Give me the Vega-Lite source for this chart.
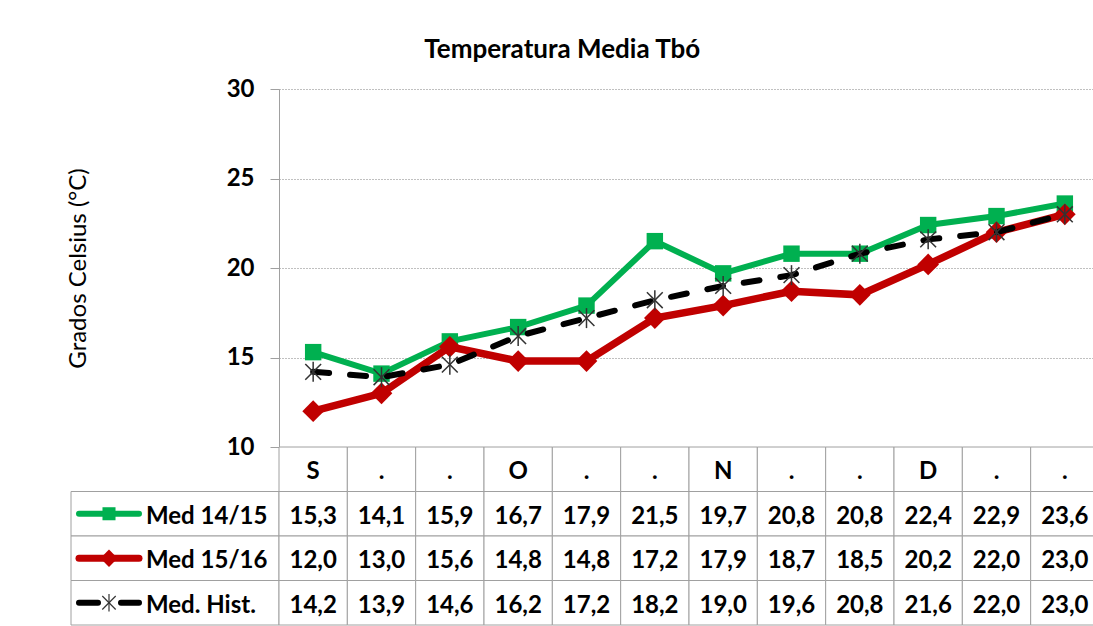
{
  "$schema": "https://vega.github.io/schema/vega-lite/v6.json",
  "background": "white",
  "padding": {"left": 65, "top": 37, "right": 0, "bottom": 0},
  "title": {"text": "Temperatura Media Tbó", "font": "Lato", "fontSize": 26, "fontWeight": "bold", "color": "black", "anchor": "middle", "dx": -20, "offset": 14},
  "datasets": {
    "temps": [
      {"serie": "Med 14/15", "periodo": "S1", "valor": 15.3},
      {"serie": "Med 14/15", "periodo": "S2", "valor": 14.1},
      {"serie": "Med 14/15", "periodo": "S3", "valor": 15.9},
      {"serie": "Med 14/15", "periodo": "O1", "valor": 16.7},
      {"serie": "Med 14/15", "periodo": "O2", "valor": 17.9},
      {"serie": "Med 14/15", "periodo": "O3", "valor": 21.5},
      {"serie": "Med 14/15", "periodo": "N1", "valor": 19.7},
      {"serie": "Med 14/15", "periodo": "N2", "valor": 20.8},
      {"serie": "Med 14/15", "periodo": "N3", "valor": 20.8},
      {"serie": "Med 14/15", "periodo": "D1", "valor": 22.4},
      {"serie": "Med 14/15", "periodo": "D2", "valor": 22.9},
      {"serie": "Med 14/15", "periodo": "D3", "valor": 23.6},
      {"serie": "Med 15/16", "periodo": "S1", "valor": 12.0},
      {"serie": "Med 15/16", "periodo": "S2", "valor": 13.0},
      {"serie": "Med 15/16", "periodo": "S3", "valor": 15.6},
      {"serie": "Med 15/16", "periodo": "O1", "valor": 14.8},
      {"serie": "Med 15/16", "periodo": "O2", "valor": 14.8},
      {"serie": "Med 15/16", "periodo": "O3", "valor": 17.2},
      {"serie": "Med 15/16", "periodo": "N1", "valor": 17.9},
      {"serie": "Med 15/16", "periodo": "N2", "valor": 18.7},
      {"serie": "Med 15/16", "periodo": "N3", "valor": 18.5},
      {"serie": "Med 15/16", "periodo": "D1", "valor": 20.2},
      {"serie": "Med 15/16", "periodo": "D2", "valor": 22.0},
      {"serie": "Med 15/16", "periodo": "D3", "valor": 23.0},
      {"serie": "Med. Hist.", "periodo": "S1", "valor": 14.2},
      {"serie": "Med. Hist.", "periodo": "S2", "valor": 13.9},
      {"serie": "Med. Hist.", "periodo": "S3", "valor": 14.6},
      {"serie": "Med. Hist.", "periodo": "O1", "valor": 16.2},
      {"serie": "Med. Hist.", "periodo": "O2", "valor": 17.2},
      {"serie": "Med. Hist.", "periodo": "O3", "valor": 18.2},
      {"serie": "Med. Hist.", "periodo": "N1", "valor": 19.0},
      {"serie": "Med. Hist.", "periodo": "N2", "valor": 19.6},
      {"serie": "Med. Hist.", "periodo": "N3", "valor": 20.8},
      {"serie": "Med. Hist.", "periodo": "D1", "valor": 21.6},
      {"serie": "Med. Hist.", "periodo": "D2", "valor": 22.0},
      {"serie": "Med. Hist.", "periodo": "D3", "valor": 23.0}
    ],
    "cabecera": [
      {"serie": "cab", "periodo": "S1", "etiqueta": "S"},
      {"serie": "cab", "periodo": "S2", "etiqueta": "."},
      {"serie": "cab", "periodo": "S3", "etiqueta": "."},
      {"serie": "cab", "periodo": "O1", "etiqueta": "O"},
      {"serie": "cab", "periodo": "O2", "etiqueta": "."},
      {"serie": "cab", "periodo": "O3", "etiqueta": "."},
      {"serie": "cab", "periodo": "N1", "etiqueta": "N"},
      {"serie": "cab", "periodo": "N2", "etiqueta": "."},
      {"serie": "cab", "periodo": "N3", "etiqueta": "."},
      {"serie": "cab", "periodo": "D1", "etiqueta": "D"},
      {"serie": "cab", "periodo": "D2", "etiqueta": "."},
      {"serie": "cab", "periodo": "D3", "etiqueta": "."}
    ],
    "series": [
      {"serie": "Med 14/15"},
      {"serie": "Med 15/16"},
      {"serie": "Med. Hist."}
    ]
  },
  "spacing": 358,
  "bounds": "flush",
  "vconcat": [
    {
      "spacing": 0,
      "bounds": "flush",
      "hconcat": [
        {
          "width": 208,
          "height": 358,
          "data": {"name": "series"},
          "mark": {"type": "text"},
          "encoding": {"text": {"value": " "}}
        },
        {
          "width": 820,
          "height": 358,
          "data": {"name": "temps"},
          "encoding": {
            "x": {
              "field": "periodo", "type": "ordinal",
              "sort": ["S1", "S2", "S3", "O1", "O2", "O3", "N1", "N2", "N3", "D1", "D2", "D3"],
              "scale": {"type": "point", "padding": 0.5},
              "axis": {"title": null, "labels": false, "ticks": false, "grid": false, "domainColor": "#A0A0A0"}
            },
            "y": {
              "field": "valor", "type": "quantitative",
              "scale": {"domain": [10, 30], "zero": false, "nice": false},
              "axis": {
                "title": "Grados Celsius (°C)", "values": [10, 15, 20, 25, 30],
                "grid": true, "gridDash": [1, 2], "gridColor": "#808080",
                "domainColor": "#A0A0A0", "tickColor": "#A0A0A0", "tickSize": 9,
                "labelFont": "Lato", "labelFontSize": 24, "labelFontWeight": "bold", "labelColor": "black", "labelPadding": 16,
                "titleFont": "Lato", "titleFontSize": 24, "titleFontWeight": "normal", "titleColor": "black",
                "titlePadding": 136
              }
            }
          },
          "layer": [
            {
              "transform": [{"filter": "datum.serie == 'Med 14/15'"}],
              "mark": {"type": "line", "color": "#00B050", "strokeWidth": 6},
              "encoding": {}
            },
            {
              "transform": [{"filter": "datum.serie == 'Med 14/15'"}],
              "mark": {"type": "point", "shape": "square", "filled": true, "color": "#00B050", "size": 270, "opacity": 1},
              "encoding": {}
            },
            {
              "transform": [{"filter": "datum.serie == 'Med 15/16'"}],
              "mark": {"type": "line", "color": "#C00000", "strokeWidth": 7.5},
              "encoding": {}
            },
            {
              "transform": [{"filter": "datum.serie == 'Med 15/16'"}],
              "mark": {"type": "point", "shape": "diamond", "filled": true, "color": "#C00000", "size": 470, "opacity": 1},
              "encoding": {}
            },
            {
              "transform": [{"filter": "datum.serie == 'Med. Hist.'"}],
              "mark": {"type": "line", "color": "#000000", "strokeWidth": 6, "strokeDash": [16, 21], "strokeCap": "round"},
              "encoding": {}
            },
            {
              "transform": [{"filter": "datum.serie == 'Med. Hist.'"}],
              "mark": {"type": "point", "shape": "stroke", "filled": false, "color": "#333333", "strokeWidth": 1.5, "size": 400, "angle": 90, "opacity": 1},
              "encoding": {}
            },
            {
              "transform": [{"filter": "datum.serie == 'Med. Hist.'"}],
              "mark": {"type": "point", "shape": "stroke", "filled": false, "color": "#333333", "strokeWidth": 1.5, "size": 500, "angle": 45, "opacity": 1},
              "encoding": {}
            },
            {
              "transform": [{"filter": "datum.serie == 'Med. Hist.'"}],
              "mark": {"type": "point", "shape": "stroke", "filled": false, "color": "#333333", "strokeWidth": 1.5, "size": 500, "angle": 135, "opacity": 1},
              "encoding": {}
            }
          ]
        }
      ]
    },
    {
      "spacing": 0,
      "bounds": "flush",
      "hconcat": [
        {
          "width": 208,
          "height": 178,
          "data": {"name": "series"},
          "encoding": {
            "y": {
              "field": "serie", "type": "nominal",
              "scale": {"type": "band", "domain": ["cab", "Med 14/15", "Med 15/16", "Med. Hist."], "paddingInner": 0, "paddingOuter": 0},
              "axis": null
            }
          },
          "layer": [
            {
              "mark": {"type": "rect", "fill": "white", "stroke": "#A0A0A0", "strokeWidth": 1},
              "encoding": {}
            },
            {
              "transform": [{"filter": "datum.serie == 'Med 14/15'"}],
              "mark": {"type": "point", "shape": "stroke", "filled": false, "color": "#00B050", "strokeWidth": 6, "strokeCap": "round", "size": 3600, "xOffset": -66, "opacity": 1},
              "encoding": {}
            },
            {
              "transform": [{"filter": "datum.serie == 'Med 14/15'"}],
              "mark": {"type": "point", "shape": "square", "filled": true, "color": "#00B050", "size": 170, "xOffset": -66, "opacity": 1},
              "encoding": {}
            },
            {
              "transform": [{"filter": "datum.serie == 'Med 15/16'"}],
              "mark": {"type": "point", "shape": "stroke", "filled": false, "color": "#C00000", "strokeWidth": 7, "strokeCap": "round", "size": 3600, "xOffset": -66, "opacity": 1},
              "encoding": {}
            },
            {
              "transform": [{"filter": "datum.serie == 'Med 15/16'"}],
              "mark": {"type": "point", "shape": "diamond", "filled": true, "color": "#C00000", "size": 300, "xOffset": -66, "opacity": 1},
              "encoding": {}
            },
            {
              "transform": [{"filter": "datum.serie == 'Med. Hist.'"}],
              "mark": {"type": "point", "shape": "stroke", "filled": false, "color": "#000000", "strokeWidth": 6, "strokeCap": "round", "strokeDash": [19, 23], "size": 3600, "xOffset": -66, "opacity": 1},
              "encoding": {}
            },
            {
              "transform": [{"filter": "datum.serie == 'Med. Hist.'"}],
              "mark": {"type": "point", "shape": "stroke", "filled": false, "color": "#333333", "strokeWidth": 1.2, "size": 300, "angle": 90, "xOffset": -66, "opacity": 1},
              "encoding": {}
            },
            {
              "transform": [{"filter": "datum.serie == 'Med. Hist.'"}],
              "mark": {"type": "point", "shape": "stroke", "filled": false, "color": "#333333", "strokeWidth": 1.2, "size": 360, "angle": 45, "xOffset": -66, "opacity": 1},
              "encoding": {}
            },
            {
              "transform": [{"filter": "datum.serie == 'Med. Hist.'"}],
              "mark": {"type": "point", "shape": "stroke", "filled": false, "color": "#333333", "strokeWidth": 1.2, "size": 360, "angle": 135, "xOffset": -66, "opacity": 1},
              "encoding": {}
            },
            {
              "mark": {"type": "text", "align": "left", "baseline": "middle", "dx": -29, "dy": 3, "font": "Lato", "fontSize": 24, "fontWeight": "bold", "color": "black"},
              "encoding": {"text": {"field": "serie", "type": "nominal"}}
            }
          ]
        },
        {
          "width": 820,
          "height": 178,
          "encoding": {
            "x": {
              "field": "periodo", "type": "ordinal",
              "sort": ["S1", "S2", "S3", "O1", "O2", "O3", "N1", "N2", "N3", "D1", "D2", "D3"],
              "scale": {"type": "band", "paddingInner": 0, "paddingOuter": 0},
              "axis": null
            },
            "y": {
              "field": "serie", "type": "nominal",
              "scale": {"type": "band", "domain": ["cab", "Med 14/15", "Med 15/16", "Med. Hist."], "paddingInner": 0, "paddingOuter": 0},
              "axis": null
            }
          },
          "layer": [
            {
              "data": {"name": "cabecera"},
              "mark": {"type": "rect", "fill": "white", "stroke": "#A0A0A0", "strokeWidth": 1},
              "encoding": {}
            },
            {
              "data": {"name": "temps"},
              "mark": {"type": "rect", "fill": "white", "stroke": "#A0A0A0", "strokeWidth": 1},
              "encoding": {}
            },
            {
              "data": {"name": "cabecera"},
              "mark": {"type": "text", "baseline": "middle", "dy": 3, "font": "Lato", "fontSize": 24, "fontWeight": "bold", "color": "black"},
              "encoding": {"text": {"field": "etiqueta", "type": "nominal"}}
            },
            {
              "data": {"name": "temps"},
              "transform": [{"calculate": "replace(format(datum.valor, '.1f'), '.', ',')", "as": "texto"}],
              "mark": {"type": "text", "baseline": "middle", "dy": 3, "font": "Lato", "fontSize": 24, "fontWeight": "bold", "color": "black"},
              "encoding": {"text": {"field": "texto", "type": "nominal"}}
            }
          ]
        }
      ]
    }
  ],
  "config": {
    "font": "Lato",
    "view": {"stroke": null}
  }
}
